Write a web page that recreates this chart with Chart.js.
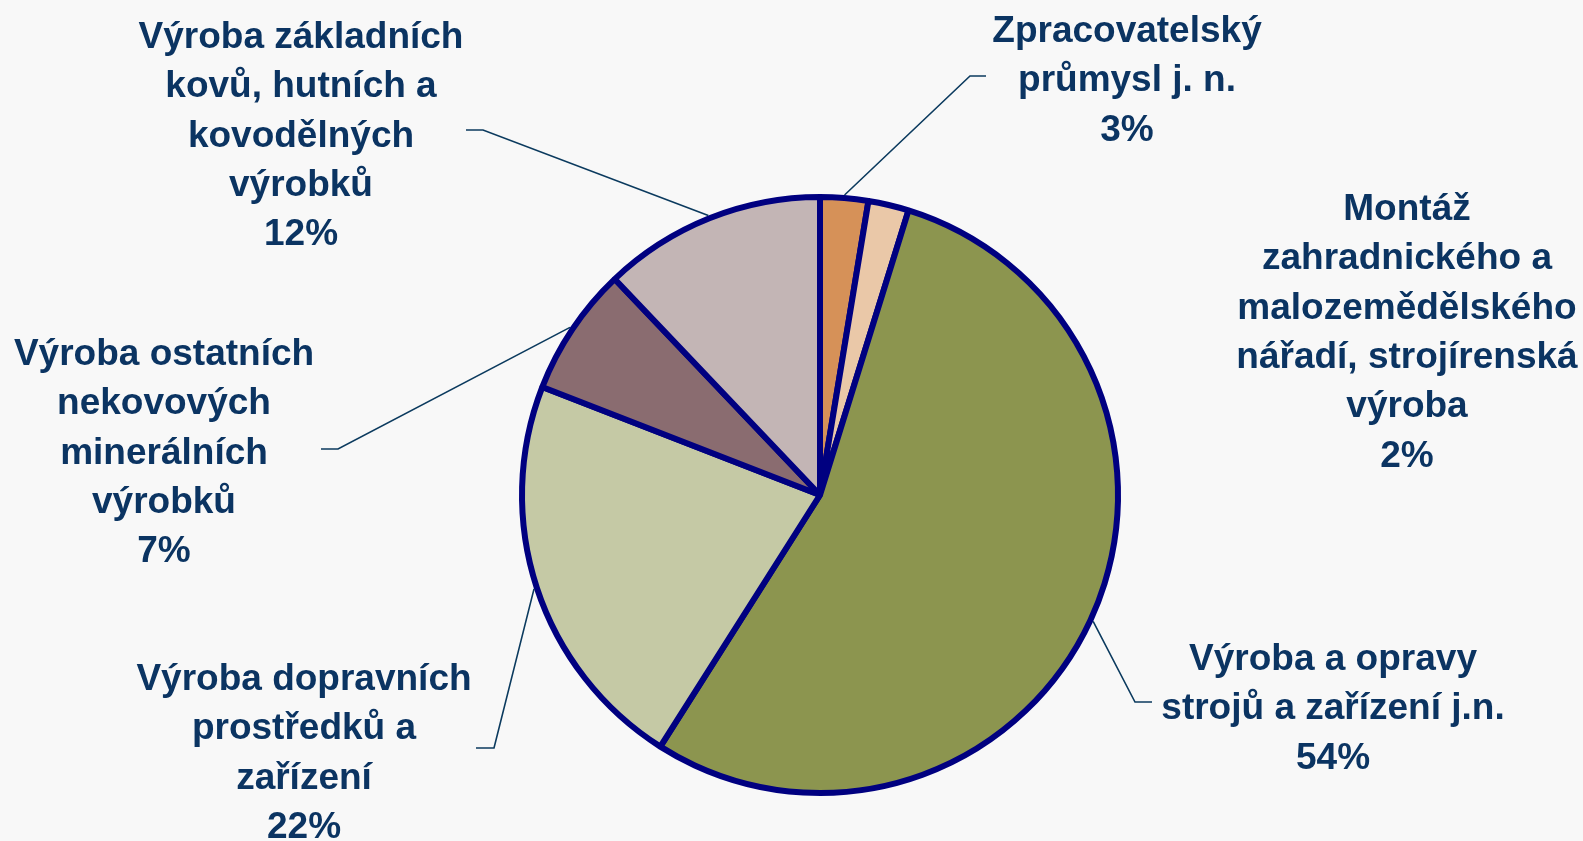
<!DOCTYPE html>
<html><head><meta charset="utf-8">
<script src="https://cdn.jsdelivr.net/npm/chart.js@4.4.1/dist/chart.umd.min.js"></script>
<style>html,body{margin:0;padding:0;background:#f8f8f8;overflow:hidden}#wrap{width:1583px;height:841px;position:relative}</style>
</head><body><div id="wrap"><canvas id="c" width="1583" height="841"></canvas></div>
<script>
const categories = [
  ["Zpracovatelský", "průmysl j. n."],
  ["Montáž", "zahradnického a", "malozemědělského", "nářadí, strojírenská", "výroba"],
  ["Výroba a opravy", "strojů a zařízení j.n."],
  ["Výroba dopravních", "prostředků a", "zařízení"],
  ["Výroba ostatních", "nekovových", "minerálních", "výrobků"],
  ["Výroba základních", "kovů, hutních a", "kovodělných", "výrobků"]
];
const values = [2.6, 2.2, 54.2, 21.9, 7.0, 12.1];
const colors = ["#D69158", "#EAC8A8", "#8C954F", "#C5C9A5", "#8A6C70", "#C3B5B5"];

// label layout, offsets from pie centre (px)
const labelLayout = [
  {cx: 307, by: -453, elbow: [150, -419], endX: 166},
  {cx: 587, by: -275},
  {cx: 513, by: 175, elbow: [315, 207], endX: 332},
  {cx: -516, by: 195, elbow: [-326, 253], endX: -344},
  {cx: -656, by: -130, elbow: [-482, -46], endX: -499},
  {cx: -519, by: -447, elbow: [-337, -365], endX: -354}
];
const textColor = "#0b3462";
const lineH = 49.3;

const labelPlugin = {
  id: 'outLabels',
  afterDatasetsDraw(chart) {
    const ctx = chart.ctx;
    const meta = chart.getDatasetMeta(0);
    const total = values.reduce((a, b) => a + b, 0);
    meta.data.forEach((arc, i) => {
      const p = arc.getProps(['x', 'y', 'startAngle', 'endAngle', 'outerRadius'], true);
      const L = labelLayout[i];
      ctx.save();
      if (L.elbow) {
        const mid = (p.startAngle + p.endAngle) / 2;
        const r = p.outerRadius + 3;
        ctx.beginPath();
        ctx.moveTo(p.x + Math.cos(mid) * r, p.y + Math.sin(mid) * r);
        ctx.lineTo(p.x + L.elbow[0], p.y + L.elbow[1]);
        ctx.lineTo(p.x + L.endX, p.y + L.elbow[1]);
        ctx.strokeStyle = "#0b3a5e";
        ctx.lineWidth = 1.6;
        ctx.stroke();
      }
      ctx.font = 'bold 37px "Liberation Sans", Arial, sans-serif';
      ctx.fillStyle = textColor;
      ctx.textAlign = 'center';
      ctx.textBaseline = 'alphabetic';
      const lines = [...categories[i], Math.round(values[i] / total * 100) + '%'];
      lines.forEach((t, k) => ctx.fillText(t, p.x + L.cx, p.y + L.by + k * lineH));
      ctx.restore();
    });
  }
};

new Chart(document.getElementById('c'), {
  type: 'pie',
  data: {
    labels: categories.map(c => c.join(' ')),
    datasets: [{
      data: values,
      backgroundColor: colors,
      borderColor: '#000080',
      borderWidth: 6,
      radius: 298
    }]
  },
  options: {
    responsive: false,
    animation: false,
    devicePixelRatio: 1,
    layout: {padding: {left: 57, top: 149, right: 0, bottom: 0}},
    plugins: {legend: {display: false}, tooltip: {enabled: false}}
  },
  plugins: [labelPlugin]
});
</script>
</body></html>
